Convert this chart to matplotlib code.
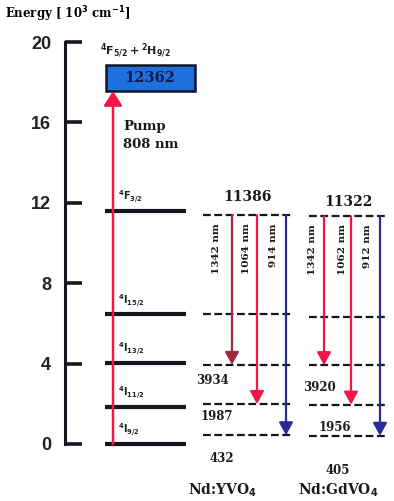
import matplotlib
matplotlib.use("Agg")
import matplotlib.pyplot as plt
from matplotlib.patches import FancyArrowPatch, Rectangle

# energies in 10^3 cm^-1 (ion levels) and cm^-1 (crystal levels)
ion_names = [r"$\mathbf{^4I_{9/2}}$", r"$\mathbf{^4I_{11/2}}$", r"$\mathbf{^4I_{13/2}}$",
             r"$\mathbf{^4I_{15/2}}$", r"$\mathbf{^4F_{3/2}}$"]
ion_levels = [0.0, 1.85, 4.05, 6.45, 11.6]
pump_band = [17.56, 18.86]
pump_value = "12362"
pump_nm = 808

yvo4_upper = 11386
yvo4_lower = [3934, 1987, 432]
yvo4_i15 = 6450
yvo4_nm = [1342, 1064, 914]

gdvo4_upper = 11322
gdvo4_lower = [3920, 1956, 405]
gdvo4_i15 = 6300
gdvo4_nm = [1342, 1062, 912]

yticks = [0, 4, 8, 12, 16, 20]

red = "#f2154a"
maroon = "#9e2a3e"
blue = "#2b2b96"
ink = "#161620"

fig = plt.figure(figsize=(3.94, 5.01), dpi=100)
ax = fig.add_axes([0, 0, 1, 1])
ax.set_xlim(0, 394)
ax.set_ylim(-2.836, 22.09)

# energy axis
for s in ["top", "right", "bottom"]:
    ax.spines[s].set_visible(False)
ax.spines["left"].set_position(("data", 65))
ax.spines["left"].set_bounds(0, 20)
ax.spines["left"].set_linewidth(2.2)
ax.spines["left"].set_color(ink)
ax.set_xticks([])
ax.set_yticks(yticks)
ax.set_yticklabels([str(t) for t in yticks], fontsize=13, fontweight="bold",
                   family="Liberation Sans", color="#222")
ax.tick_params(axis="y", direction="in", length=12, width=2.6, color=ink, pad=10)
ax.patch.set_visible(False)

fig.text(0.013, 0.972, r"Energy [ 10$^{\mathbf{3}}$ cm$^{\mathbf{-1}}$]", fontsize=8.5,
         fontweight="bold", family="DejaVu Serif", va="center", ha="left")

serif = dict(family="DejaVu Serif", fontweight="bold", color="#1a1a1a")

# Nd3+ ion manifolds
for e, name in zip(ion_levels, ion_names):
    ax.plot([105, 186], [e, e], color=ink, lw=3, solid_capstyle="butt", zorder=2)
    ax.text(118, e + 0.28, name, fontsize=7, ha="left", va="bottom", color="#222")

# pump band and pump arrow
ax.add_patch(Rectangle((106, pump_band[0]), 89, pump_band[1] - pump_band[0],
                       facecolor="#1f6fdc", edgecolor="#10162a", lw=1.8, zorder=3))
ax.text(150, sum(pump_band) / 2, pump_value, fontsize=10.5, ha="center", va="center",
        color="#0d1a4a", family="DejaVu Serif", fontweight="bold")
ax.text(100, 19.55, r"$\mathbf{^4F_{5/2}+^2H_{9/2}}$", fontsize=8, ha="left", va="center",
        color="#222")
ax.add_patch(FancyArrowPatch((113, 0), (113, pump_band[0]), arrowstyle="-|>,head_length=0.55,head_width=0.35",
                             mutation_scale=16, color=red, lw=1.8, shrinkA=0, shrinkB=0, zorder=4))
ax.text(123, 15.8, "Pump", fontsize=9.5, ha="left", va="center", **serif)
ax.text(123, 14.9, f"{pump_nm} nm", fontsize=9.5, ha="left", va="center", **serif)


def crystal(x0, x1, upper, lower, i15, nm, arrow_x, text_x, colors, lab_x, name, name_x, top_y, lab_dy):
    levels = [upper / 1000, i15 / 1000] + [v / 1000 for v in lower]
    for e in levels:
        ax.plot([x0, x1], [e, e], color=ink, lw=1.6, dashes=(3.5, 1.6), zorder=2)
    ax.text((x0 + x1) / 2, top_y, str(upper), fontsize=10, ha="center", va="center", **serif)
    for v, w, ax_x, tx, c, lx, dy in zip(lower, nm, arrow_x, text_x, colors, lab_x, lab_dy):
        ax.add_patch(FancyArrowPatch((ax_x, upper / 1000), (ax_x, v / 1000),
                                     arrowstyle="-|>,head_length=0.55,head_width=0.3",
                                     mutation_scale=14, color=c, lw=1.6,
                                     shrinkA=0, shrinkB=0, zorder=4))
        ax.text(tx, upper / 1000 - 0.4, f"{w} nm", fontsize=7.5, rotation=90,
                ha="center", va="top", **serif)
        ax.text(lx, v / 1000 - dy, str(v), fontsize=8.5, ha="center", va="center", **serif)
    ax.text(name_x, -2.3, name, fontsize=10, ha="center", va="center", **serif)


crystal(203, 292, yvo4_upper, yvo4_lower, yvo4_i15, yvo4_nm,
        [232, 257, 286], [217, 247, 274], [maroon, red, blue],
        [213, 217, 222], r"Nd:YVO$_{\mathbf{4}}$", 222, 12.3, [0.75, 0.6, 1.15])
crystal(309, 387, gdvo4_upper, gdvo4_lower, gdvo4_i15, gdvo4_nm,
        [324, 351, 380], [313, 343, 368], [red, red, blue],
        [320, 335, 338], r"Nd:GdVO$_{\mathbf{4}}$", 338, 12.05, [1.1, 1.15, 1.7])

fig.savefig("out.png", dpi=100)
